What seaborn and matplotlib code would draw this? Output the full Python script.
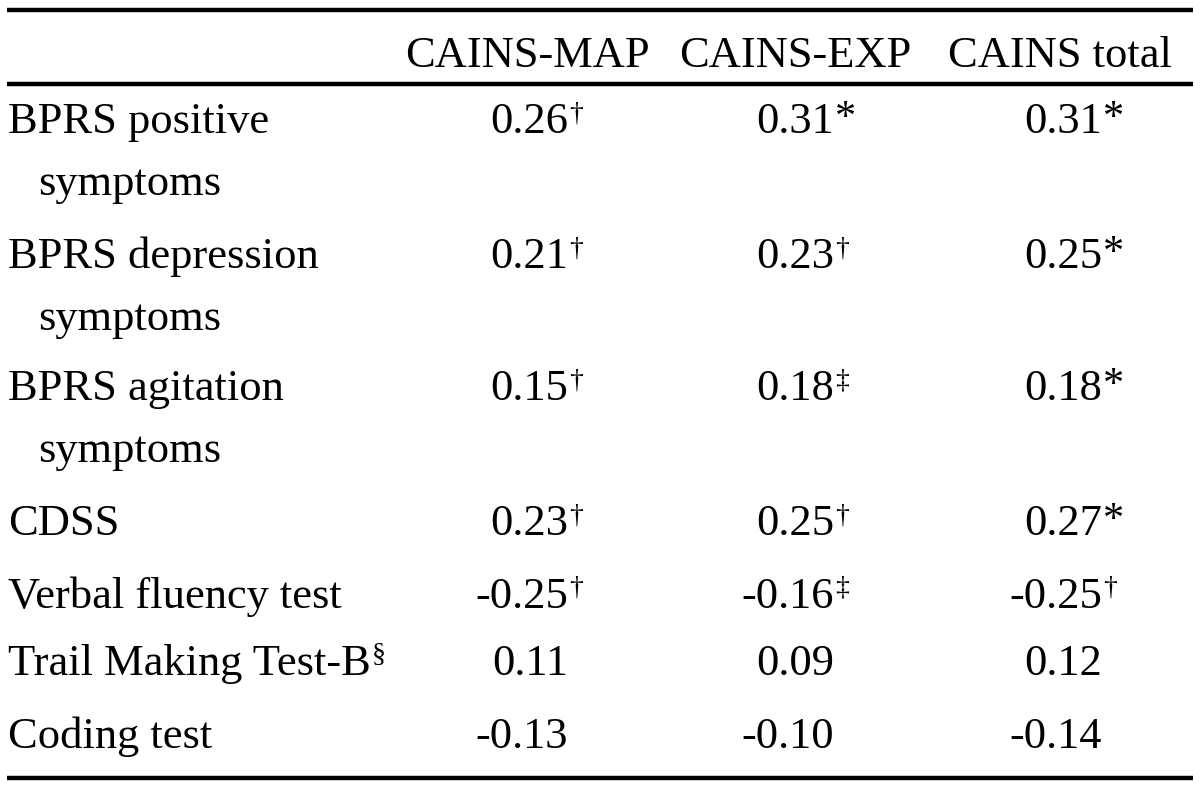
import matplotlib
matplotlib.use("Agg")
import matplotlib.pyplot as plt
import seaborn as sns

sns.set_theme(style="white")
plt.rcParams["font.family"] = ["Liberation Serif", "DejaVu Serif"]

# table content
columns = ["CAINS-MAP", "CAINS-EXP", "CAINS total"]
row_labels = [
    ["BPRS positive", "symptoms"],
    ["BPRS depression", "symptoms"],
    ["BPRS agitation", "symptoms"],
    ["CDSS"],
    ["Verbal fluency test"],
    ["Trail Making Test-B"],
    ["Coding test"],
]
label_marks = ["", "", "", "", "", "\u00a7", ""]
map_vals = ["0.26", "0.21", "0.15", "0.23", "-0.25", "0.11", "-0.13"]
exp_vals = ["0.31", "0.23", "0.18", "0.25", "-0.16", "0.09", "-0.10"]
tot_vals = ["0.31", "0.25", "0.18", "0.27", "-0.25", "0.12", "-0.14"]
map_marks = ["\u2020", "\u2020", "\u2020", "\u2020", "\u2020", "", ""]
exp_marks = ["*", "\u2020", "\u2021", "\u2020", "\u2021", "", ""]
tot_marks = ["*", "*", "*", "*", "\u2020", "", ""]

W, H = 1200, 789
FS = 32            # main font size (pt)
SUP = 20           # superscript font size

fig = plt.figure(figsize=(W / 100, H / 100), dpi=100)
ax = fig.add_axes([0, 0, 1, 1])
ax.set_xlim(0, W)
ax.set_ylim(H, 0)
ax.axis("off")

# rules
ax.hlines([9.5, 83.5, 778], 7, 1193, color="black", lw=3.2)

# header
header_x = [527, 795, 1060]
for x, col in zip(header_x, columns):
    ax.text(x, 67, col, ha="center", va="baseline", fontsize=FS, color="black")

# row baselines (first line of each row); second line follows at +62
row_base = [133, 268, 400, 535, 608, 675, 748]
num_right = [568, 834, 1102]   # right edge of the digits in each column

value_cols = [(map_vals, map_marks), (exp_vals, exp_marks), (tot_vals, tot_marks)]

fig.canvas.draw()
for i, lines in enumerate(row_labels):
    yb = row_base[i]
    for j, line in enumerate(lines):
        x = 8 if j == 0 else 38
        t = ax.text(x, yb + 62 * j, line, ha="left", va="baseline",
                    fontsize=FS, color="black")
        if j == 0 and label_marks[i]:
            bb = t.get_window_extent(renderer=fig.canvas.get_renderer())
            ax.text(bb.x1 + 1, yb - 13, label_marks[i], ha="left", va="baseline",
                    fontsize=SUP, color="black")
    for c, (vals, marks) in enumerate(value_cols):
        xr = num_right[c]
        ax.text(xr, yb, vals[i], ha="right", va="baseline", fontsize=FS, color="black")
        m = marks[i]
        if m == "*":
            ax.text(xr + 1, yb - 4, m, ha="left", va="baseline", fontsize=FS * 0.95, color="black")
        elif m:
            ax.text(xr + 1, yb - 13, m, ha="left", va="baseline", fontsize=SUP, color="black")

fig.savefig("out.png", dpi=100, facecolor="white")
